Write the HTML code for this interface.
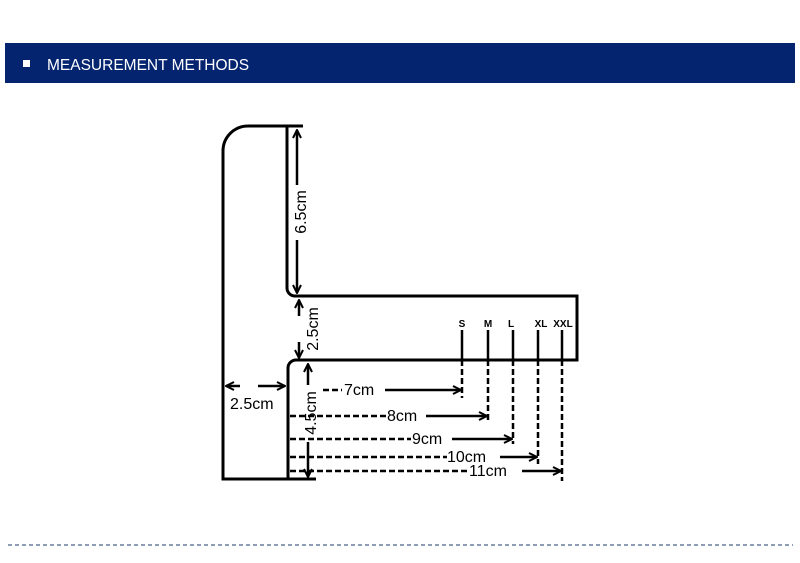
<!DOCTYPE html>
<html><head><meta charset="utf-8"><style>
html,body{margin:0;padding:0;background:#fff;width:800px;height:563px;overflow:hidden}
svg{display:block}
</style></head><body>
<svg width="800" height="563" viewBox="0 0 800 563" xmlns="http://www.w3.org/2000/svg" font-family="Liberation Sans, sans-serif">
<defs>
<marker id="a" viewBox="0 0 10 10" refX="9" refY="5" markerWidth="4" markerHeight="4" orient="auto-start-reverse"><path d="M1,1 L9,5 L1,9" fill="none" stroke="#000" stroke-width="2"/></marker>
</defs>
<rect x="5" y="43" width="790" height="40" fill="#052470"/>
<rect x="23" y="60" width="7" height="7" fill="#fff"/>
<text x="47" y="70" fill="#fff" font-size="15.5">MEASUREMENT METHODS</text>
<line x1="8" y1="545" x2="793" y2="545" stroke="#1d3d6b" stroke-width="1" stroke-dasharray="4,3"/>
<g fill="none" stroke="#000" stroke-width="3">
<path d="M303,126 H248 A25,25 0 0 0 223,151 V479 H316"/>
<path d="M287,126 V288 A8,8 0 0 0 295,296 H577 V360 H296 A8,8 0 0 0 288,368 V479"/>
</g>
<g stroke="#000" stroke-width="2.5" fill="none">
<line x1="297" y1="130" x2="297" y2="185" marker-start="url(#a)"/>
<line x1="297" y1="240" x2="297" y2="293" marker-end="url(#a)"/>
<line x1="299" y1="316" x2="299" y2="300" marker-end="url(#a)"/>
<line x1="299" y1="342" x2="299" y2="358" marker-end="url(#a)"/>
<line x1="308" y1="364" x2="308" y2="385" marker-start="url(#a)"/>
<line x1="308" y1="442" x2="308" y2="477" marker-end="url(#a)"/>
<line x1="240" y1="386" x2="226" y2="386" marker-end="url(#a)"/>
<line x1="258" y1="386" x2="285" y2="386" marker-end="url(#a)"/>
<line x1="462" y1="330" x2="462" y2="360"/><line x1="462" y1="360" x2="462" y2="398" stroke-dasharray="6,3"/>
<line x1="488" y1="330" x2="488" y2="360"/><line x1="488" y1="360" x2="488" y2="422" stroke-dasharray="6,3"/>
<line x1="513" y1="330" x2="513" y2="360"/><line x1="513" y1="360" x2="513" y2="444" stroke-dasharray="6,3"/>
<line x1="538" y1="330" x2="538" y2="360"/><line x1="538" y1="360" x2="538" y2="464" stroke-dasharray="6,3"/>
<line x1="562" y1="330" x2="562" y2="360"/><line x1="562" y1="360" x2="562" y2="481" stroke-dasharray="6,3"/>
<line x1="323" y1="390" x2="342" y2="390" stroke-dasharray="6,3"/>
<line x1="385" y1="390" x2="461" y2="390" marker-end="url(#a)"/>
<line x1="290" y1="416" x2="386" y2="416" stroke-dasharray="6,3"/>
<line x1="426" y1="416" x2="487" y2="416" marker-end="url(#a)"/>
<line x1="290" y1="439" x2="411" y2="439" stroke-dasharray="6,3"/>
<line x1="452" y1="439" x2="512" y2="439" marker-end="url(#a)"/>
<line x1="290" y1="457" x2="447" y2="457" stroke-dasharray="6,3"/>
<line x1="500" y1="457" x2="537" y2="457" marker-end="url(#a)"/>
<line x1="290" y1="471" x2="469" y2="471" stroke-dasharray="6,3"/>
<line x1="522" y1="471" x2="561" y2="471" marker-end="url(#a)"/>
</g>
<g font-size="16" fill="#000">
<text transform="translate(306,212) rotate(-90)" text-anchor="middle">6.5cm</text>
<text transform="translate(318,329) rotate(-90)" text-anchor="middle">2.5cm</text>
<text transform="translate(316,413) rotate(-90)" text-anchor="middle">4.5cm</text>
<text x="230" y="409">2.5cm</text>
<text x="344" y="395">7cm</text>
<text x="387" y="421">8cm</text>
<text x="412" y="444">9cm</text>
<text x="447" y="462">10cm</text>
<text x="469" y="476">11cm</text>
</g>
<g font-size="10" font-weight="bold" fill="#000" text-anchor="middle">
<text x="462" y="327">S</text><text x="488" y="327">M</text><text x="511" y="327">L</text><text x="541" y="327">XL</text><text x="563" y="327">XXL</text>
</g>
</svg>
</body></html>
